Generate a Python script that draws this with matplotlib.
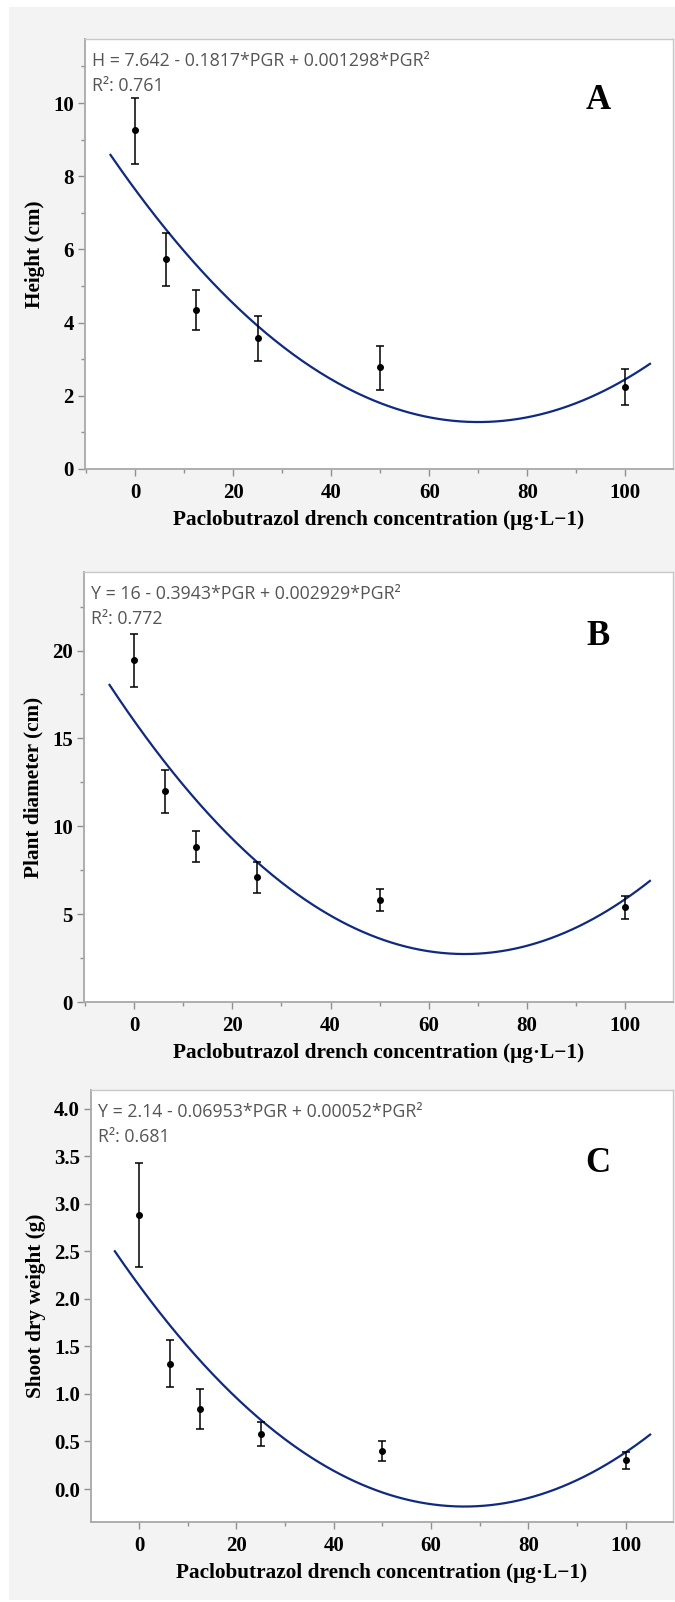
import numpy as np
import matplotlib
matplotlib.use("Agg")
import matplotlib.pyplot as plt
from matplotlib.patches import Rectangle
from matplotlib.ticker import MultipleLocator, FormatStrFormatter

# paclobutrazol drench concentrations (ug/L)
conc = [0, 6.25, 12.5, 25, 50, 100]

# panel A - height (cm)
height_mean = [9.25, 5.73, 4.35, 3.57, 2.79, 2.24]
height_lo = [8.33, 4.99, 3.80, 2.96, 2.17, 1.74]
height_hi = [10.13, 6.46, 4.88, 4.18, 3.36, 2.74]
height_coef = [0.001298, -0.1817, 7.642]

# panel B - plant diameter (cm)
diam_mean = [19.44, 12.02, 8.84, 7.11, 5.80, 5.43]
diam_lo = [17.92, 10.77, 7.98, 6.22, 5.16, 4.72]
diam_hi = [20.96, 13.18, 9.75, 7.98, 6.44, 6.01]
diam_coef = [0.002929, -0.3943, 16.0]

# panel C - shoot dry weight (g)
dw_mean = [2.88, 1.32, 0.84, 0.58, 0.40, 0.30]
dw_lo = [2.33, 1.07, 0.63, 0.45, 0.29, 0.21]
dw_hi = [3.43, 1.57, 1.05, 0.70, 0.51, 0.39]
dw_coef = [0.00052, -0.06953, 2.14]

fit_range = [-5, 105]

W, H = 675, 1602
fig = plt.figure(figsize=(W / 100, H / 100), dpi=100)
fig.patch.set_facecolor("white")
fig.patches.append(Rectangle((9 / W, 1 - 1600 / H), (W - 9) / W, (1600 - 7) / H,
                             transform=fig.transFigure, facecolor="#f3f3f3",
                             edgecolor="none", zorder=-10))

serif = "Liberation Serif"
eq_font = ["Open Sans", "DejaVu Sans"]
curve_col = "#0f2a80"


def make_panel(box, xlim, ylim, mean, lo, hi, coef, ylabel, major, minor, fmt,
               eq, r2, letter, letter_y):
    l, t, r, b = box
    ax = fig.add_axes([l / W, 1 - b / H, (r - l) / W, (b - t) / H])
    ax.set_facecolor("white")
    xs = np.linspace(fit_range[0], fit_range[1], 300)
    ax.plot(xs, np.polyval(coef, xs), color=curve_col, lw=1.6, zorder=2)
    mean = np.array(mean)
    yerr = [mean - np.array(lo), np.array(hi) - mean]
    ax.errorbar(conc, mean, yerr=yerr, fmt="o", color="black", ms=4,
                elinewidth=1.1, capsize=3, capthick=1.1, zorder=3)
    ax.set_xlim(*xlim)
    ax.set_ylim(*ylim)
    ax.xaxis.set_major_locator(MultipleLocator(20))
    ax.xaxis.set_minor_locator(MultipleLocator(10))
    ax.yaxis.set_major_locator(MultipleLocator(major))
    if minor:
        ax.yaxis.set_minor_locator(MultipleLocator(minor))
    ax.yaxis.set_major_formatter(FormatStrFormatter(fmt))
    for s in ["top", "right"]:
        ax.spines[s].set_color("#c8c8c8")
        ax.spines[s].set_linewidth(1.0)
    for s in ["left", "bottom"]:
        ax.spines[s].set_color("#a8a8a8")
        ax.spines[s].set_linewidth(1.3)
    ax.tick_params(which="major", length=5, width=1, color="#909090")
    ax.tick_params(axis="y", which="major", pad=3)
    ax.tick_params(axis="x", which="major", pad=5)
    ax.tick_params(which="minor", length=3, width=1, color="#909090")
    for lab in ax.get_xticklabels() + ax.get_yticklabels():
        lab.set_fontfamily(serif)
        lab.set_fontweight("bold")
        lab.set_fontsize(15)
    ax.set_xlabel("Paclobutrazol drench concentration (μg·L−1)", family=serif,
                  weight="bold", fontsize=15.3, labelpad=5)
    ax.set_ylabel(ylabel, family=serif, weight="bold", fontsize=15.3, labelpad=6)
    ax.text(7 / (r - l), 1 - 27 / (b - t), eq, transform=ax.transAxes,
            family=eq_font, fontsize=12.8, color="#555555", va="baseline")
    ax.text(7 / (r - l), 1 - 52 / (b - t), r2, transform=ax.transAxes,
            family=eq_font, fontsize=12.8, color="#555555", va="baseline")
    ax.text((598 - l) / (r - l), letter_y, letter, transform=ax.transAxes,
            family=serif, weight="bold", fontsize=25, ha="center", va="center")
    return ax


make_panel((85, 39, 673, 469), (-10.2, 109.7), (0, 11.75),
           height_mean, height_lo, height_hi, height_coef, "Height (cm)",
           2, 1, "%d", "H = 7.642 - 0.1817*PGR + 0.001298*PGR²", "R²: 0.761",
           "A", 0.856)
make_panel((84, 572, 673, 1002), (-10.2, 109.7), (0, 24.47),
           diam_mean, diam_lo, diam_hi, diam_coef, "Plant diameter (cm)",
           5, 2.5, "%d", "Y = 16 - 0.3943*PGR + 0.002929*PGR²", "R²: 0.772",
           "B", 0.849)
make_panel((91, 1090, 673, 1522), (-9.9, 109.7), (-0.347, 4.197),
           dw_mean, dw_lo, dw_hi, dw_coef, "Shoot dry weight (g)",
           0.5, None, "%.1f", "Y = 2.14 - 0.06953*PGR + 0.00052*PGR²", "R²: 0.681",
           "C", 0.829)

fig.savefig("out.png", dpi=100, facecolor=fig.get_facecolor())
